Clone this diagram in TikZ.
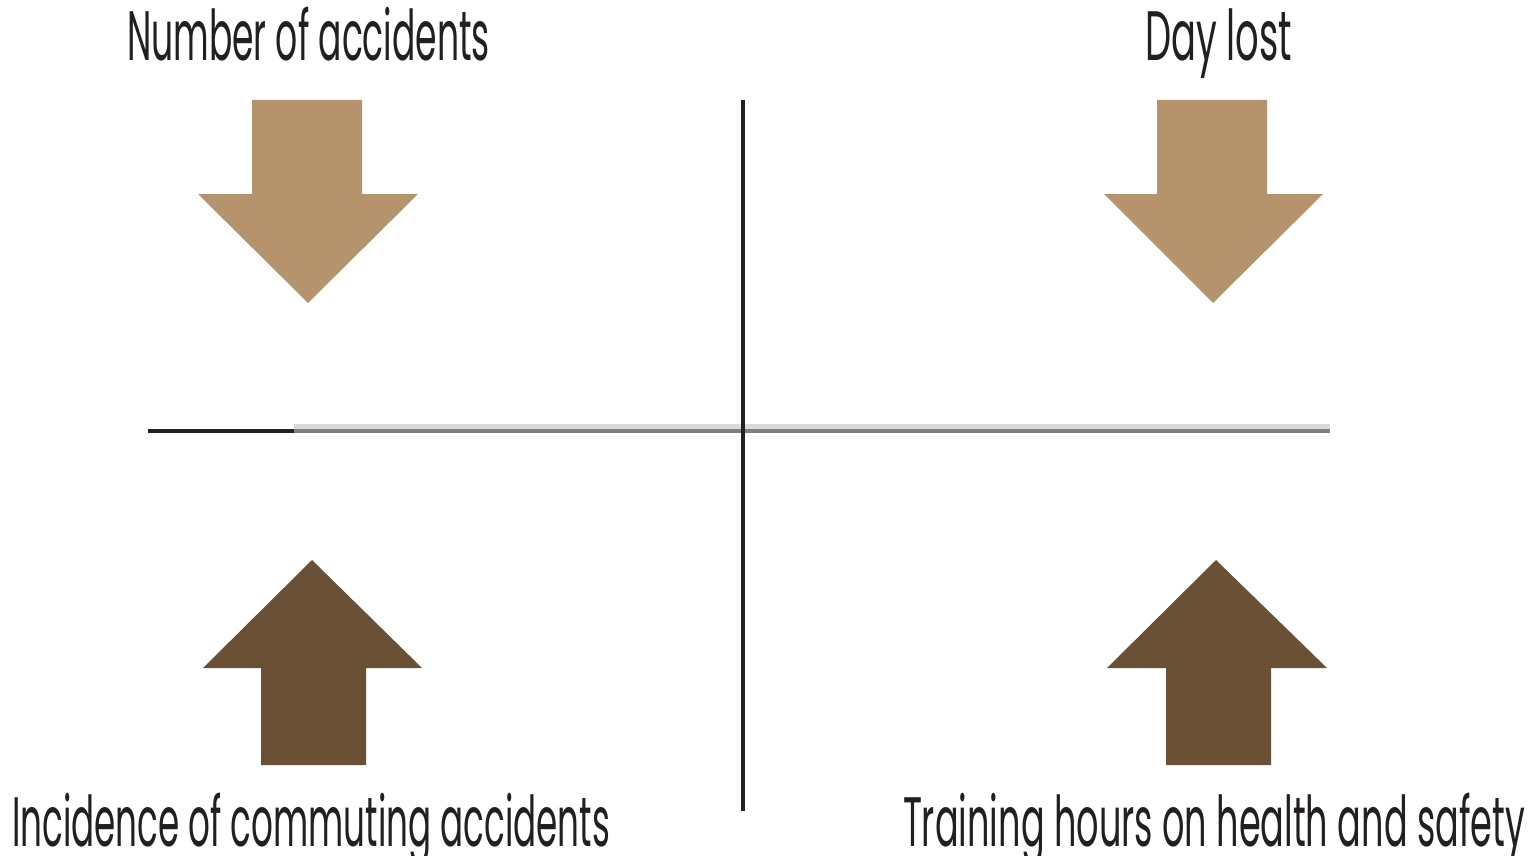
\documentclass[tikz,border=0pt]{standalone}
\usepackage{fontspec}
\setmainfont{Poppins}
\definecolor{lightbrown}{HTML}{B5946D}
\definecolor{darkbrown}{HTML}{6A5034}
\definecolor{ink}{HTML}{231F20}
\definecolor{axisdark}{HTML}{222222}
\definecolor{axisgray}{HTML}{7F7F7F}
\definecolor{axislight}{HTML}{DADADA}
\tikzset{
  lbl/.style={anchor=base west, inner sep=0pt, outer sep=0pt, text=ink,
    font=\fontsize{70}{80}\selectfont},
  downarrow/.style={fill=lightbrown, draw=none},
  uparrow/.style={fill=darkbrown, draw=none},
  axisline/.style={draw=axisdark, line width=4pt}
}
\begin{document}
\begin{tikzpicture}[x=1pt,y=-1pt]
\useasboundingbox (0,0) rectangle (1540,856);
% labels
\node[lbl] (nacc) at (127,61) {\resizebox{363pt}{\height}{Number of accidents}};
\node[lbl] (dlost) at (1145,61) {\resizebox{147pt}{\height}{Day lost}};
\node[lbl] (incid) at (12,846) {\resizebox{598pt}{\height}{Incidence of commuting accidents}};
\node[lbl] (train) at (903,846) {\resizebox{622pt}{\height}{Training hours on health and safety}};
% down arrows
\fill[downarrow] (252,100) -- (362,100) -- (362,194) -- (418,194) -- (308,303) -- (198,194) -- (252,194) -- cycle;
\fill[downarrow] (1157,100) -- (1267,100) -- (1267,194) -- (1323,194) -- (1213,303) -- (1104,194) -- (1157,194) -- cycle;
% up arrows
\fill[uparrow] (261,765) -- (366,765) -- (366,668) -- (422,668) -- (312,560) -- (203,668) -- (261,668) -- cycle;
\fill[uparrow] (1166,765) -- (1271,765) -- (1271,668) -- (1327,668) -- (1216,560) -- (1107,668) -- (1166,668) -- cycle;
% horizontal axis
\fill[axislight] (294,424) rectangle (1330,429);
\fill[axisgray] (294,429) rectangle (1330,433);
\fill[axisdark] (148,429) rectangle (294,433);
% vertical axis
\draw[axisline] (743,100) -- (743,811);
\end{tikzpicture}
\end{document}
